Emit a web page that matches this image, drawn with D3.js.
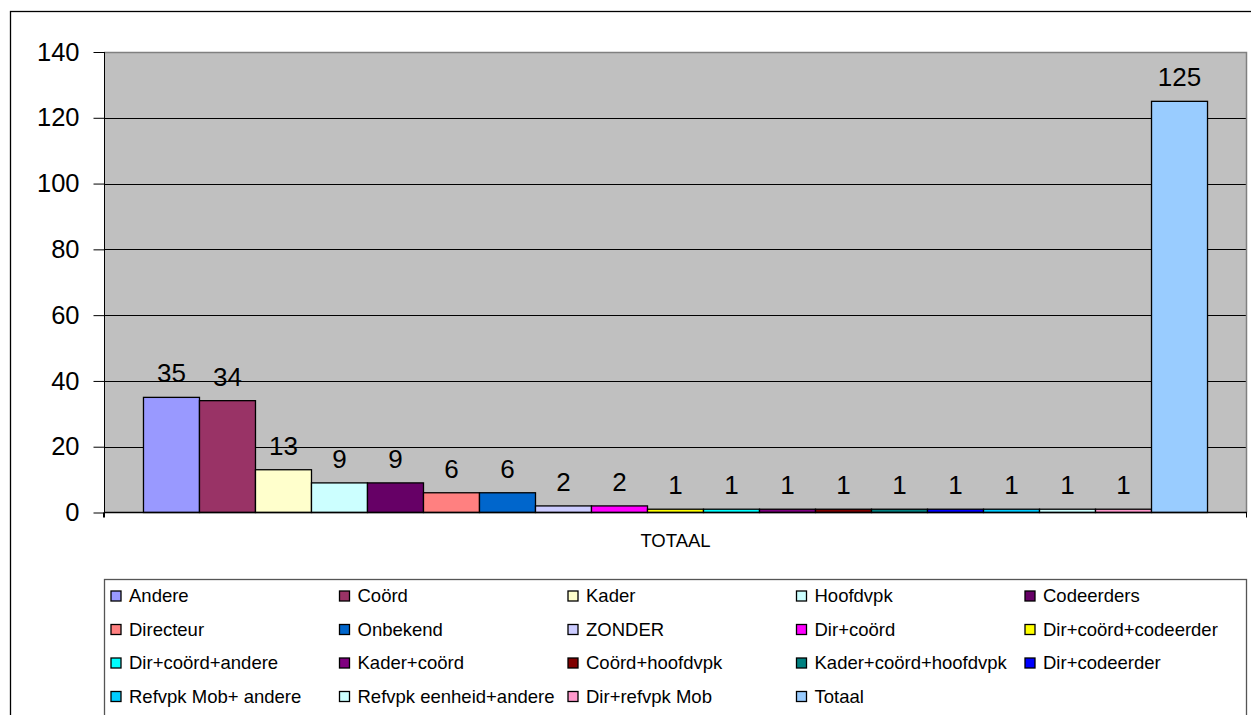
<!DOCTYPE html>
<html>
<head>
<meta charset="utf-8">
<script src="https://cdn.jsdelivr.net/npm/d3@7"></script>
<style>
  html, body { margin: 0; padding: 0; background: #fff; }
  svg { display: block; font-family: "Liberation Sans", Arial, sans-serif; }
</style>
</head>
<body>
<svg id="chart" width="1251" height="715"></svg>
<script>
// Category on the x axis
const categories = ["TOTAAL"];

// Series names, counts and fills (one bar per series)
const seriesNames = [
  "Andere", "Coörd", "Kader", "Hoofdvpk", "Codeerders",
  "Directeur", "Onbekend", "ZONDER", "Dir+coörd", "Dir+coörd+codeerder",
  "Dir+coörd+andere", "Kader+coörd", "Coörd+hoofdvpk", "Kader+coörd+hoofdvpk", "Dir+codeerder",
  "Refvpk Mob+ andere", "Refvpk eenheid+andere", "Dir+refvpk Mob", "Totaal"
];
const seriesValues = [35, 34, 13, 9, 9, 6, 6, 2, 2, 1, 1, 1, 1, 1, 1, 1, 1, 1, 125];
const seriesColors = [
  "#9999FF", "#993366", "#FFFFCC", "#CCFFFF", "#660066",
  "#FF8080", "#0066CC", "#CCCCFF", "#FF00FF", "#FFFF00",
  "#00FFFF", "#800080", "#800000", "#008080", "#0000FF",
  "#00CCFF", "#CCFFFF", "#FF99CC", "#99CCFF"
];

// Y axis ticks
const yTicks = [0, 20, 40, 60, 80, 100, 120, 140];

const svg = d3.select("#chart");
const FONT = "\"Liberation Sans\", Arial, sans-serif";

// Plot area geometry
const plot = { left: 104, right: 1247, top: 52, bottom: 512.5 };

// Outer chart frame
svg.append("rect")
  .attr("x", 10.5).attr("y", 11.5)
  .attr("width", 1300).attr("height", 800)
  .attr("fill", "#fff").attr("stroke", "#000").attr("stroke-width", 1.3);

const y = d3.scaleLinear().domain([0, 140]).range([plot.bottom, plot.top]);
const x0 = d3.scaleBand().domain(categories).range([plot.left, plot.right]).padding(0);
const x1 = d3.scaleBand().domain(seriesNames)
  .range([0, x0.bandwidth()])
  .paddingInner(0).paddingOuter(0.705);

// Plot background
svg.append("rect")
  .attr("x", plot.left).attr("y", plot.top)
  .attr("width", plot.right - plot.left).attr("height", plot.bottom - plot.top)
  .attr("fill", "#C0C0C0");

// Gridlines
svg.append("g")
  .selectAll("line")
  .data(yTicks.filter(t => t > 0 && t < 140))
  .join("line")
  .attr("x1", plot.left).attr("x2", plot.right)
  .attr("y1", d => Math.round(y(d)) + 0.5).attr("y2", d => Math.round(y(d)) + 0.5)
  .attr("stroke", "#000").attr("stroke-width", 1);

// Plot border (top and right)
svg.append("path")
  .attr("d", `M${plot.left},${plot.top + 0.5}H${plot.right - 0.5}V${plot.bottom}`)
  .attr("fill", "none").attr("stroke", "#808080").attr("stroke-width", 1.5);

// Bars
const group = svg.append("g")
  .selectAll("g")
  .data(categories)
  .join("g")
  .attr("transform", d => `translate(${x0(d)},0)`);

group.selectAll("rect")
  .data(seriesNames.map((name, i) => ({ name, value: seriesValues[i], color: seriesColors[i] })))
  .join("rect")
  .attr("x", d => x1(d.name))
  .attr("y", d => y(d.value))
  .attr("width", x1.bandwidth())
  .attr("height", d => y(0) - y(d.value))
  .attr("fill", d => d.color)
  .attr("stroke", "#000")
  .attr("stroke-width", 1.3);

// Value labels
group.selectAll("text")
  .data(seriesNames.map((name, i) => ({ name, value: seriesValues[i] })))
  .join("text")
  .attr("x", d => x1(d.name) + x1.bandwidth() / 2)
  .attr("y", d => y(d.value) - 15)
  .attr("text-anchor", "middle")
  .attr("font-size", 26)
  .attr("fill", "#000")
  .text(d => d.value);

// Y axis
const yAxis = d3.axisLeft(y).tickValues(yTicks).tickSize(11).tickPadding(14);
const gy = svg.append("g")
  .attr("transform", `translate(${plot.left + 0.5},0)`)
  .call(yAxis);
gy.select(".domain").remove();
gy.selectAll(".tick line").attr("stroke", "#000");
gy.selectAll(".tick text")
  .attr("font-size", 25.5)
  .attr("font-family", FONT)
  .attr("fill", "#000");
svg.append("line")
  .attr("x1", plot.left + 0.5).attr("x2", plot.left + 0.5)
  .attr("y1", plot.top).attr("y2", plot.bottom + 5)
  .attr("stroke", "#000");

// X axis
const xAxis = d3.axisBottom(x0).tickSize(0).tickPadding(21);
const gx = svg.append("g")
  .attr("transform", `translate(0,${plot.bottom})`)
  .call(xAxis);
gx.select(".domain").remove();
gx.selectAll(".tick text")
  .attr("font-size", 18.5)
  .attr("font-family", FONT)
  .attr("fill", "#000");
svg.append("line")
  .attr("x1", plot.left).attr("x2", plot.right)
  .attr("y1", plot.bottom).attr("y2", plot.bottom)
  .attr("stroke", "#000").attr("stroke-width", 1.3);
// Category boundary ticks
svg.append("g")
  .selectAll("line")
  .data([x0.range()[0], x0.range()[1]])
  .join("line")
  .attr("x1", d => d - 0.5).attr("x2", d => d - 0.5)
  .attr("y1", plot.bottom).attr("y2", plot.bottom + 5)
  .attr("stroke", "#000");

// Legend
const legend = { left: 104, top: 579, right: 1246, colStep: 228.5, rowStep: 33.5, cols: 5 };
svg.append("rect")
  .attr("x", legend.left + 0.5).attr("y", legend.top + 0.5)
  .attr("width", legend.right - legend.left).attr("height", 200)
  .attr("fill", "#fff").attr("stroke", "#555").attr("stroke-width", 1.3);

const items = svg.append("g")
  .selectAll("g")
  .data(seriesNames.map((name, i) => ({ name, color: seriesColors[i], i })))
  .join("g")
  .attr("transform", d => {
    const c = d.i % legend.cols, r = Math.floor(d.i / legend.cols);
    return `translate(${legend.left + 7 + c * legend.colStep},${legend.top + 17 + r * legend.rowStep})`;
  });
items.append("rect")
  .attr("x", 0).attr("y", -5)
  .attr("width", 10).attr("height", 10)
  .attr("fill", d => d.color)
  .attr("stroke", "#000").attr("stroke-width", 1.3);
items.append("text")
  .attr("x", 18).attr("y", 0)
  .attr("dy", "0.35em")
  .attr("font-size", 18.5)
  .attr("fill", "#000")
  .text(d => d.name);
</script>
</body>
</html>
